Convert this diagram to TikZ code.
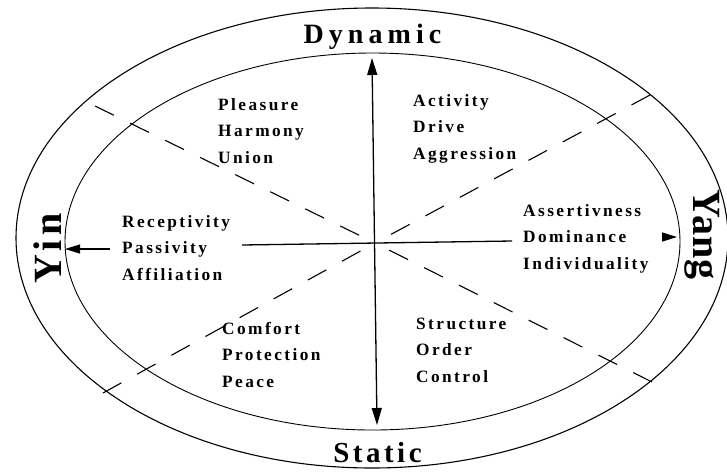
\documentclass[tikz,border=0pt]{standalone}
\usepackage{fontspec}
\setmainfont{Liberation Serif}
\newfontfamily\labfont[LetterSpace=14]{Liberation Serif}
\newfontfamily\dynfont[LetterSpace=18]{Liberation Serif}
\newfontfamily\statfont[LetterSpace=12]{Liberation Serif}
\newfontfamily\yinfont[LetterSpace=12]{Liberation Serif}
\newfontfamily\yangfont[LetterSpace=3]{Liberation Serif}
\usetikzlibrary{shapes.geometric,arrows.meta}
\tikzset{
  tipv/.tip={Triangle[length=17pt,width=10pt]},
  tiph/.tip={Triangle[length=15pt,width=9pt]},
}
\begin{document}
\begin{tikzpicture}[x=1pt,y=-1pt,
  ring/.style={draw, ellipse, inner sep=0pt, line width=1.1pt},
  axisline/.style={line width=1.3pt},
  diag/.style={line width=1.1pt, dash pattern=on 21pt off 18pt},
  lab/.style={inner sep=0pt, anchor=base west, font=\labfont\bfseries\fontsize{17.3}{26.5}\selectfont},
  bigtitle/.style={inner sep=0pt, anchor=base},
]
\useasboundingbox (0,0) rectangle (727,472);
\fill[white] (0,0) rectangle (727,472);

% rings
\node[ring, minimum width=712pt, minimum height=460pt] (outer) at (372,238) {};
\node[ring, line width=0.9pt, minimum width=615pt, minimum height=377pt] (inner) at (372.5,241.5) {};

% key points
\coordinate (c) at (375,243);
\coordinate (top) at (372,58);
\coordinate (bot) at (377,425);
\coordinate (hl) at (242,245);
\coordinate (hr) at (512,241);
\coordinate (la) at (110,249);
\coordinate (lt) at (65,249);
\coordinate (ra) at (663,237);
\coordinate (rt) at (677,237);
\coordinate (ul) at (95,106);
\coordinate (ur) at (650,95);
\coordinate (ll) at (103,393);
\coordinate (lr) at (652,382);

% diagonals
\draw[diag] (ul) -- (c);
\draw[diag] (ur) -- (c);
\draw[diag] (ll) -- (c);
\draw[diag] (lr) -- (c);

% axes
\draw[axisline, tipv-tipv] (top) -- (bot);
\draw[axisline] (hl) -- (hr);
\draw[axisline, -tiph] (la) -- (lt);
\draw[axisline, -tiph] (ra) -- (rt);

% titles
\node[bigtitle, font=\dynfont\bfseries\fontsize{28}{30}\selectfont] (dyn) at (372.5,43) {Dynamic};
\node[bigtitle, font=\statfont\bfseries\fontsize{29}{31}\selectfont] (stat) at (377.5,462) {Static};
\node[bigtitle, rotate=90, font=\yinfont\bfseries\fontsize{40}{42}\selectfont] (yin) at (61,248.5) {Yin};
\node[bigtitle, rotate=-90, font=\yangfont\bfseries\fontsize{40}{42}\selectfont] (yang) at (693,234.5) {Yang};

% quadrant labels
\node[lab] (pl) at (218,110) {\begin{tabular}[t]{@{}l@{}}Pleasure\\Harmony\\Union\end{tabular}};
\node[lab] (ac) at (413,106) {\begin{tabular}[t]{@{}l@{}}Activity\\Drive\\Aggression\end{tabular}};
\node[lab] (re) at (122,227) {\begin{tabular}[t]{@{}l@{}}Receptivity\\Passivity\\Affiliation\end{tabular}};
\node[lab] (as) at (523,216) {\begin{tabular}[t]{@{}l@{}}Assertivness\\Dominance\\Individuality\end{tabular}};
\node[lab] (co) at (222,334) {\begin{tabular}[t]{@{}l@{}}Comfort\\Protection\\Peace\end{tabular}};
\node[lab] (st) at (416,329) {\begin{tabular}[t]{@{}l@{}}Structure\\Order\\Control\end{tabular}};
\end{tikzpicture}
\end{document}
